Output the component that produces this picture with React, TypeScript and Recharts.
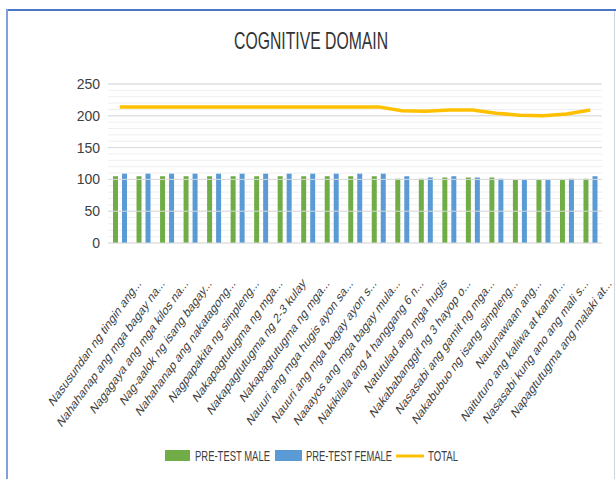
import { ComposedChart, Bar, Line, XAxis, YAxis, CartesianGrid, ReferenceLine } from "recharts";

const categories = [
  "Nasusundan ng tingin ang...",
  "Nahahanap ang mga bagay na...",
  "Nagagaya ang mga kilos na...",
  "Nag-aalok ng isang bagay...",
  "Nahahanap ang nakatagong...",
  "Nagpapakita ng simpleng...",
  "Nakapagtutugma ng mga...",
  "Nakapagtutugma ng 2-3 kulay",
  "Nakapagtutugma ng mga...",
  "Nauuri ang mga hugis ayon sa...",
  "Nauuri ang mga bagay ayon s...",
  "Naaayos ang mga bagay mula...",
  "Nakikilala ang 4 hanggang 6 n...",
  "Natutulad ang  mga hugis",
  "Nakababanggit ng 3 hayop o...",
  "Nasasabi ang gamit ng mga...",
  "Nakabubuo ng isang simpleng...",
  "Nauunawaan ang...",
  "Naituturo ang kaliwa at kanan...",
  "Nasasabi kung ano ang mali s...",
  "Napagtutugma ang malaki at...",
];

const preTestMale = [105, 105, 105, 105, 105, 105, 105, 105, 105, 105, 105, 105, 101, 101, 103, 103, 103, 99, 99, 99, 101];
const preTestFemale = [109, 109, 109, 109, 109, 109, 109, 109, 109, 109, 109, 109, 105, 103, 105, 103, 101, 99, 99, 101, 105];
const total = [214, 214, 214, 214, 214, 214, 214, 214, 214, 214, 214, 214, 208, 207, 209, 209, 204, 201, 200, 203, 209];

const yTicks = [0, 10, 20, 30, 40, 50, 60, 70, 80, 90, 100, 110, 120, 130, 140, 150, 160, 170, 180, 190, 200, 210, 220, 230, 240, 250];
const majorTicks = [50, 100, 150, 200, 250];

const seriesNames = ["PRE-TEST MALE", "PRE-TEST FEMALE", "TOTAL"];
const GREEN = "#70AD47";
const BLUE = "#5B9BD5";
const ORANGE = "#FFC000";
const TEXT = "#404040";
const FONT = "'Liberation Sans', Arial, sans-serif";

const data = categories.map((name, i) => ({
  name,
  male: preTestMale[i],
  female: preTestFemale[i],
  total: total[i],
}));

// labels look like 45deg text squeezed sideways
const XTick = (props: any) => {
  const { x, y, payload } = props;
  return (
    <g transform={`translate(${x + 22},${y + 33}) scale(0.72,1)`}>
      <text textAnchor="end" transform="rotate(-45)" fontSize={14} fill={TEXT} fontFamily={FONT}>
        {payload.value}
      </text>
    </g>
  );
};

// squeezed legend text, like the rest of the picture
const LegendText = ({ x, w, label }: { x: number; w: number; label: string }) => (
  <g transform={`translate(${x},461) scale(0.72,1)`}>
    <text fontSize={15} fill={TEXT} fontFamily={FONT} textLength={w / 0.72} lengthAdjust="spacingAndGlyphs">
      {label}
    </text>
  </g>
);

const App = () => {
  return (
    <div style={{ position: "absolute", left: 0, top: 0, width: 616, height: 479, background: "#fff", overflow: "hidden" }}>
      <div style={{ position: "absolute", left: 6, top: 9, width: 610, height: 2, background: "#4a76c8" }} />
      <div style={{ position: "absolute", left: 6, top: 9, width: 2, height: 470, background: "#7fa0da" }} />
      <div style={{ position: "absolute", left: 614, top: 11, width: 1, height: 468, background: "#cdd6e6" }} />

      <div style={{ position: "absolute", left: 0, top: 0 }}>
        <ComposedChart width={616} height={479} data={data} margin={{ top: 84, right: 14, bottom: 0, left: 0 }}>
          <CartesianGrid horizontal vertical={false} stroke="#efefef" />
          {majorTicks.map((t) => (
            <ReferenceLine key={t} y={t} stroke="#d9d9d9" />
          ))}
          <XAxis
            dataKey="name"
            interval={0}
            height={236}
            tickLine={false}
            axisLine={{ stroke: "#d9d9d9" }}
            tick={<XTick />}
          />
          <YAxis
            width={108}
            domain={[0, 250]}
            ticks={yTicks}
            interval={0}
            axisLine={false}
            tickLine={false}
            tickMargin={2}
            tickFormatter={(v: number) => (v % 50 === 0 ? String(v) : "")}
            tick={{ fontSize: 14, fill: TEXT, fontFamily: FONT }}
          />
          <Bar dataKey="male" name={seriesNames[0]} fill={GREEN} barSize={5} isAnimationActive={false} />
          <Bar dataKey="female" name={seriesNames[1]} fill={BLUE} barSize={5} isAnimationActive={false} />
          <Line dataKey="total" name={seriesNames[2]} stroke={ORANGE} strokeWidth={3.5} dot={false} type="linear" isAnimationActive={false} />
        </ComposedChart>
      </div>

      <svg style={{ position: "absolute", left: 0, top: 0 }} width={616} height={479}>
        <g transform="translate(311,49) scale(0.72,1)">
          <text textAnchor="middle" fontSize={23} fill="#333333" fontFamily={FONT} textLength={154 / 0.72} lengthAdjust="spacingAndGlyphs">
            COGNITIVE DOMAIN
          </text>
        </g>
        <rect x={165} y={450} width={25} height={11} fill={GREEN} />
        <LegendText x={195} w={75} label={seriesNames[0]} />
        <rect x={275} y={450} width={27} height={11} fill={BLUE} />
        <LegendText x={306} w={86} label={seriesNames[1]} />
        <line x1={396} x2={424} y1={456} y2={456} stroke={ORANGE} strokeWidth={3} />
        <LegendText x={428} w={30} label={seriesNames[2]} />
      </svg>
    </div>
  );
};

export default App;
